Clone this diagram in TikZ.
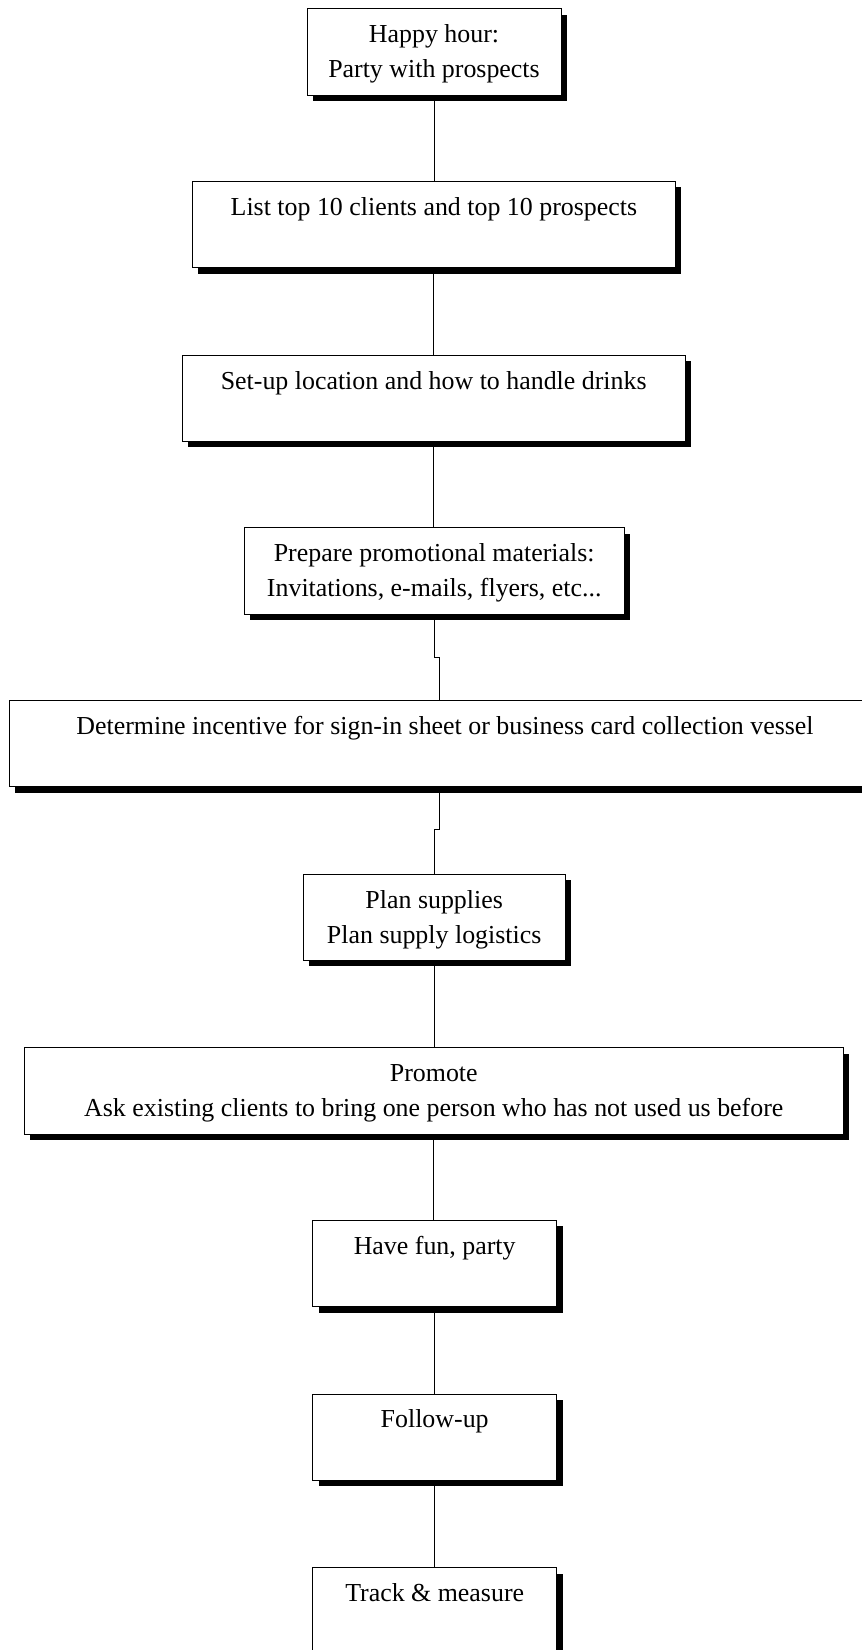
\documentclass[tikz,border=0pt]{standalone}
\usepackage{fontspec}
\setmainfont{Liberation Serif}
\usetikzlibrary{shadows}

% Box contents: lines are set from the top of a fixed-height box
\newcommand\steptext[1]{\vbox to 86.3pt{\vskip 9.5pt\hbox{\begin{tabular}{@{}c@{}}#1\end{tabular}}\vfill}}

\tikzset{
  stepbox/.style={draw, line width=0.9pt, fill=white, inner sep=0pt, anchor=north,
    drop shadow={shadow xshift=6pt, shadow yshift=-6pt, fill=black, opacity=1}},
  link/.style={line width=0.9pt}
}

\begin{document}
\begin{tikzpicture}[x=1pt, y=1pt, font=\fontsize{25.9}{35}\selectfont]
\useasboundingbox (0,0) rectangle (862,-1650);

\node[stepbox, minimum width=254pt] (b1) at (434,-8.4) {\steptext{Happy hour:\\Party with prospects}};
\node[stepbox, minimum width=483pt] (b2) at (433.9,-181) {\steptext{List top 10 clients and top 10 prospects}};
\node[stepbox, minimum width=503pt] (b3) at (433.7,-354.7) {\steptext{Set-up location and how to handle drinks}};
\node[stepbox, minimum width=380pt] (b4) at (434.2,-527.3) {\steptext{Prepare promotional materials:\\Invitations, e-mails, flyers, etc...}};
\node[stepbox, minimum width=872pt] (b5) at (445,-700) {\steptext{Determine incentive for sign-in sheet or business card collection vessel}};
\node[stepbox, minimum width=262pt] (b6) at (434.2,-873.6) {\steptext{Plan supplies\\Plan supply logistics}};
\node[stepbox, minimum width=819pt] (b7) at (433.8,-1047.2) {\steptext{Promote\\Ask existing clients to bring one person who has not used us before}};
\node[stepbox, minimum width=244pt] (b8) at (434.7,-1220) {\steptext{Have fun, party}};
\node[stepbox, minimum width=244pt] (b9) at (434.7,-1393.5) {\steptext{Follow-up}};
\node[stepbox, minimum width=244pt] (b10) at (434.7,-1567.2) {\steptext{Track \& measure}};

% jog points of the offset connectors around the wide box
\coordinate (j45) at (437,-657.3);
\coordinate (j56) at (437,-829.8);

\draw[link] (b1.south) -- (b1.south |- b2.north);
\draw[link] (b2.south) -- (b2.south |- b3.north);
\draw[link] (b3.south) -- (b3.south |- b4.north);
\draw[link] (b4.south) |- (j45) -| ([xshift=-5.7pt]b5.north);
\draw[link] ([xshift=-5.7pt]b5.south) |- (j56) -| (b6.north);
\draw[link] (b6.south) -- (b6.south |- b7.north);
\draw[link] (b7.south) -- (b7.south |- b8.north);
\draw[link] (b8.south) -- (b8.south |- b9.north);
\draw[link] (b9.south) -- (b9.south |- b10.north);
\end{tikzpicture}
\end{document}
